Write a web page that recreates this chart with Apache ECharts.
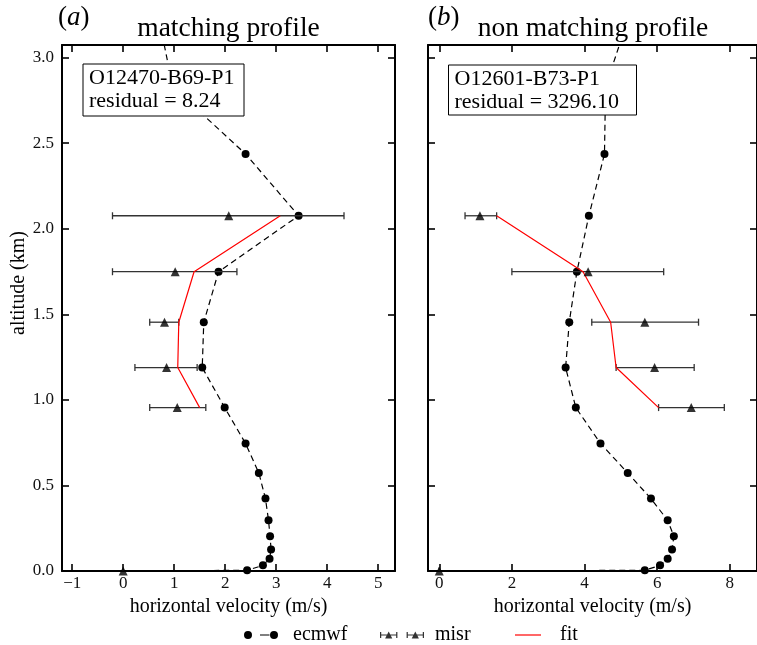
<!DOCTYPE html>
<html>
<head>
<meta charset="utf-8">
<script src="https://cdn.jsdelivr.net/npm/echarts@6/dist/echarts.min.js"></script>
<style>html,body{margin:0;padding:0;background:#fff}#c{width:757px;height:645px}</style>
</head>
<body>
<div id="c"></div>
<script>
// ---------------- data ----------------
const altEcmwf = [0, 0.004, 0.033, 0.072, 0.125, 0.203, 0.296, 0.423, 0.573, 0.745, 0.955, 1.189, 1.454, 1.749, 2.076, 2.437, 2.83, 3.26];
const ecmwfA = [0, 2.43, 2.74, 2.87, 2.90, 2.88, 2.85, 2.79, 2.66, 2.40, 1.99, 1.55, 1.58, 1.87, 3.44, 2.40, 0.97, 0.68];
const ecmwfB = [0, 5.66, 6.08, 6.29, 6.41, 6.46, 6.29, 5.83, 5.19, 4.44, 3.76, 3.48, 3.58, 3.79, 4.12, 4.55, 4.58, 5.25];

const altMisr = [0, 0.955, 1.189, 1.454, 1.749, 2.076];
const misrA = [0, 1.06, 0.85, 0.81, 1.02, 2.07];
const misrLoA = [0, 0.52, 0.23, 0.52, -0.21, -0.21];
const misrHiA = [0, 1.62, 1.45, 1.09, 2.23, 4.33];
const misrB = [0, 6.94, 5.93, 5.66, 4.10, 1.12];
const misrLoB = [0, 6.04, 4.87, 4.20, 2.00, 0.71];
const misrHiB = [0, 7.85, 7.02, 7.14, 6.18, 1.58];

const altFit = [0.955, 1.189, 1.454, 1.749, 2.076];
const fitA = [1.50, 1.07, 1.09, 1.39, 3.08];
const fitB = [6.04, 4.87, 4.72, 3.96, 1.58];

const xTicksA = [-1, 0, 1, 2, 3, 4, 5];
const xTicksB = [0, 2, 4, 6, 8];
const yTicks = [0, 0.5, 1.0, 1.5, 2.0, 2.5, 3.0];

const labelA = 'O12470-B69-P1\nresidual = 8.24';
const labelB = 'O12601-B73-P1\nresidual = 3296.10';

// ---------------- chart ----------------
const FONT = 'Liberation Serif';
const chart = echarts.init(document.getElementById('c'), null, {renderer: 'canvas'});

const G = [
  {left: 62, top: 45, width: 333, height: 526},
  {left: 428, top: 45, width: 330, height: 526}
];
const XR = [[-1.2, 5.33], [-0.31, 8.75]];
const YR = [0, 3.074];

function axisCommon(ticks) {
  return {
    axisLine: {show: true, onZero: false, lineStyle: {color: '#000', width: 2}},
    axisTick: {show: true, inside: true, length: 7, customValues: ticks, lineStyle: {color: '#000', width: 1.6}},
    splitLine: {show: false}
  };
}
function fmtX(v) { return v < 0 ? '\u2212' + Math.abs(v) : String(v); }

const xAxes = [], yAxes = [];
[xTicksA, xTicksB].forEach((tk, g) => {
  xAxes.push(Object.assign({
    type: 'value', gridIndex: g, position: 'bottom', min: XR[g][0], max: XR[g][1],
    name: 'horizontal velocity (m/s)', nameLocation: 'middle', nameGap: 22,
    nameTextStyle: {fontFamily: FONT, fontSize: 20, color: '#000'},
    axisLabel: {show: true, customValues: tk, formatter: fmtX, margin: 4, fontFamily: FONT, fontSize: 17, color: '#111'}
  }, axisCommon(tk)));
  xAxes.push(Object.assign({
    type: 'value', gridIndex: g, position: 'top', min: XR[g][0], max: XR[g][1],
    axisLabel: {show: false}
  }, axisCommon(tk)));
  yAxes.push(Object.assign({
    type: 'value', gridIndex: g, position: 'left', min: YR[0], max: YR[1],
    axisLabel: {show: g === 0, customValues: yTicks, formatter: v => v.toFixed(1), margin: 8, fontFamily: FONT, fontSize: 17, color: '#111'}
  }, axisCommon(yTicks)));
  yAxes.push(Object.assign({
    type: 'value', gridIndex: g, position: 'right', min: YR[0], max: YR[1],
    axisLabel: {show: false}
  }, axisCommon(yTicks)));
});

function ecmwfSeries(vals, g) {
  return {
    name: 'ecmwf', type: 'line', xAxisIndex: 2 * g, yAxisIndex: 2 * g,
    data: altEcmwf.map((a, i) => i === 0 ? {value: [vals[i], a], symbol: 'none'} : [vals[i], a]),
    symbol: 'circle', symbolSize: 8, showAllSymbol: true, clip: true,
    lineStyle: {color: '#000', width: 1.2, type: [6, 4]},
    itemStyle: {color: '#000'}, z: 3, animation: false
  };
}
function errSeries(vals, lo, hi, g) {
  return {
    name: 'misr-err', type: 'custom', xAxisIndex: 2 * g, yAxisIndex: 2 * g,
    data: altMisr.map((a, i) => [vals[i], a, lo[i], hi[i]]),
    encode: {x: [0, 2, 3], y: 1}, clip: true, z: 4, silent: true,
    renderItem: function (params, api) {
      const y = api.value(1);
      const p1 = api.coord([api.value(2), y]);
      const p2 = api.coord([api.value(3), y]);
      const h = 3.5, st = {stroke: '#333', lineWidth: 1.3};
      return {type: 'group', children: [
        {type: 'line', shape: {x1: p1[0], y1: p1[1], x2: p2[0], y2: p2[1]}, style: st},
        {type: 'line', shape: {x1: p1[0], y1: p1[1] - h, x2: p1[0], y2: p1[1] + h}, style: st},
        {type: 'line', shape: {x1: p2[0], y1: p2[1] - h, x2: p2[0], y2: p2[1] + h}, style: st}
      ]};
    }
  };
}
function misrSeries(vals, g) {
  return {
    name: 'misr', type: 'scatter', xAxisIndex: 2 * g, yAxisIndex: 2 * g,
    data: altMisr.map((a, i) => [vals[i], a]),
    symbol: 'triangle', symbolSize: 9, itemStyle: {color: '#000'}, z: 5, animation: false
  };
}
function fitSeries(vals, g) {
  return {
    name: 'fit', type: 'line', xAxisIndex: 2 * g, yAxisIndex: 2 * g,
    data: altFit.map((a, i) => [vals[i], a]),
    symbol: 'none', lineStyle: {color: '#ff0000', width: 1.2}, itemStyle: {color: '#ff0000'},
    z: 4, animation: false
  };
}

const series = [
  ecmwfSeries(ecmwfA, 0), ecmwfSeries(ecmwfB, 1),
  errSeries(misrA, misrLoA, misrHiA, 0), errSeries(misrB, misrLoB, misrHiB, 1),
  misrSeries(misrA, 0), misrSeries(misrB, 1),
  fitSeries(fitA, 0), fitSeries(fitB, 1)
];

const ecmwfIcon = 'path://M0,5 A4,4 0 1,1 8,5 A4,4 0 1,1 0,5 Z M16,4.4 L25.5,4.4 L25.5,5.6 L16,5.6 Z M26,5 A4,4 0 1,1 34,5 A4,4 0 1,1 26,5 Z';
const misrIcon = 'path://M0,2 L1.2,2 L1.2,8 L0,8 Z M0,4.4 L17,4.4 L17,5.6 L0,5.6 Z M15.8,2 L17,2 L17,8 L15.8,8 Z M5,8.5 L8.5,1.5 L12,8.5 Z ' +
  'M26,2 L27.2,2 L27.2,8 L26,8 Z M26,4.4 L43,4.4 L43,5.6 L26,5.6 Z M41.8,2 L43,2 L43,8 L41.8,8 Z M31,8.5 L34.5,1.5 L38,8.5 Z';
const fitIcon = 'path://M0,4.4 L26,4.4 L26,5.6 L0,5.6 Z';

function leg(name, icon, left, w, gap) {
  return {
    data: [{name: name, icon: icon}], left: left, top: 625, itemWidth: w, itemHeight: 10,
    selectedMode: false, padding: 0,
    textStyle: {fontFamily: FONT, fontSize: 20, color: '#000', padding: [0, 0, 0, gap]}
  };
}

function box(left, top, w, h, text) {
  return {
    type: 'group', left: left, top: top, z: 100, zlevel: 1, children: [
      {type: 'rect', z: 100, zlevel: 1, shape: {x: 0, y: 0, width: w, height: h}, style: {fill: '#fff', stroke: '#000', lineWidth: 1}},
      {type: 'text', z: 101, zlevel: 1, x: 6, y: 3, style: {text: text, font: '22px "Liberation Serif"', fill: '#000', lineHeight: 23}}
    ]
  };
}

const option = {
  backgroundColor: '#fff',
  animation: false,
  grid: G,
  xAxis: xAxes,
  yAxis: yAxes,
  series: series,
  legend: [
    leg('ecmwf', ecmwfIcon, 244, 34, 10),
    leg('misr', misrIcon, 380, 44, 6),
    leg('fit', fitIcon, 515, 26, 14)
  ],
  graphic: [
    {type: 'text', x: 228.5, y: 29, z: 100, style: {text: 'matching profile', font: '27.5px "Liberation Serif"', fill: '#000', align: 'center', verticalAlign: 'middle'}},
    {type: 'text', x: 593, y: 29, z: 100, style: {text: 'non matching profile', font: '27.5px "Liberation Serif"', fill: '#000', align: 'center', verticalAlign: 'middle'}},
    {type: 'text', x: 58, y: 18, z: 100, style: {text: '({i|a})', font: '27px "Liberation Serif"', fill: '#000', align: 'left', verticalAlign: 'middle',
      rich: {i: {fontStyle: 'italic', fontFamily: FONT, fontSize: 27}}}},
    {type: 'text', x: 428, y: 18, z: 100, style: {text: '({i|b})', font: '27px "Liberation Serif"', fill: '#000', align: 'left', verticalAlign: 'middle',
      rich: {i: {fontStyle: 'italic', fontFamily: FONT, fontSize: 27}}}},
    {type: 'text', x: 19, y: 283, rotation: Math.PI / 2, z: 100, style: {text: 'altitude (km)', font: '20px "Liberation Serif"', fill: '#000', align: 'center', verticalAlign: 'middle'}},
    box(82.5, 63.5, 161, 52, labelA),
    box(448, 64.5, 188, 50, labelB)
  ]
};
chart.setOption(option);
</script>
</body>
</html>
